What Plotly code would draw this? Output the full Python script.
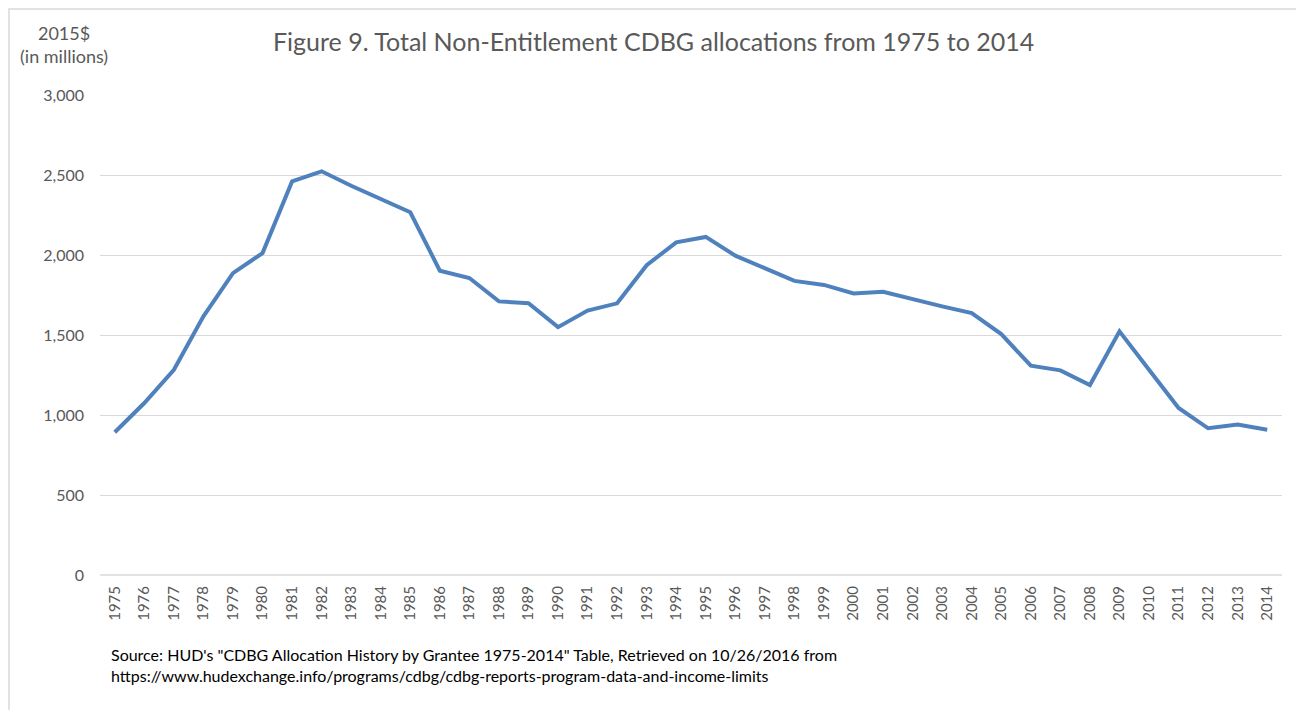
import plotly.graph_objects as go

years = [str(y) for y in range(1975, 2015)]
allocations = [
    892, 1075, 1283, 1617, 1887, 2012, 2460, 2523, 2433, 2350,
    2267, 1902, 1856, 1710, 1699, 1549, 1653, 1698, 1936, 2079,
    2113, 1996, 1919, 1838, 1813, 1760, 1770, 1722, 1679, 1637,
    1506, 1308, 1279, 1187, 1523, 1283, 1044, 917, 940, 908,
]
y_ticks = [0, 500, 1000, 1500, 2000, 2500, 3000]

title_text = "Figure 9. Total Non-Entitlement CDBG allocations from 1975 to 2014"
source_text = ("Source: HUD's \"CDBG Allocation History by Grantee 1975-2014\" Table, Retrieved on 10/26/2016 from<br>"
               "https://www.hudexchange.info/programs/cdbg/cdbg-reports-program-data-and-income-limits")

# the page body has an 8px margin, so the figure is drawn 8px smaller and
# every target pixel position is shifted by 8
OFF = 8
W, H = 1304 - OFF, 710 - OFF
L, R, T, B = 100 - OFF, 22, 95 - OFF, 135
pw, ph = W - L - R, H - T - B

def px(x):
    return (x - OFF - L) / pw

def py(y):
    return (H - B - (y - OFF)) / ph

fig = go.Figure()
fig.add_trace(go.Scatter(
    x=years, y=allocations, mode="lines",
    line=dict(color="#4F81BD", width=4),
    showlegend=False, hoverinfo="x+y",
))

fig.update_layout(
    width=W, height=H,
    margin=dict(l=L, r=R, t=T, b=B),
    paper_bgcolor="white", plot_bgcolor="white",
    font=dict(family="Lato, Open Sans, sans-serif", color="#595959"),
    xaxis=dict(
        type="category", range=[-0.5, len(years) - 0.5],
        showgrid=False, tickangle=-90, ticks="",
        tickfont=dict(size=15, color="#595959"),
        ticklabelstandoff=7,
        showline=False, zeroline=False,
    ),
    yaxis=dict(
        range=[0, 3000], tickvals=y_ticks, tickformat=",",
        showgrid=True, gridcolor="#D9D9D9", gridwidth=1,
        zeroline=False, showline=False, ticks="",
        tickfont=dict(size=16, color="#595959"),
        ticklabelstandoff=15,
    ),
    annotations=[
        dict(text=title_text, xref="paper", yref="paper",
             x=px(653), y=py(41), xanchor="center", yanchor="middle",
             showarrow=False, font=dict(size=25, color="#595959")),
        dict(text="2015$<br>(in millions)", xref="paper", yref="paper",
             x=px(64), y=py(44), xanchor="center", yanchor="middle",
             showarrow=False, font=dict(size=18, color="#595959")),
        dict(text=source_text, xref="paper", yref="paper", align="left",
             x=px(109), y=py(665), xanchor="left", yanchor="middle",
             showarrow=False, font=dict(size=16, color="black")),
    ],
    shapes=[
        dict(type="line", xref="paper", yref="paper",
             x0=0, x1=1, y0=0, y1=0, line=dict(color="#D9D9D9", width=1.5)),
        dict(type="rect", xref="paper", yref="paper",
             x0=px(9), x1=px(1302), y0=py(730), y1=py(9),
             line=dict(color="#D9D9D9", width=1.5), layer="below"),
    ],
)

fig.write_html("out.html")
